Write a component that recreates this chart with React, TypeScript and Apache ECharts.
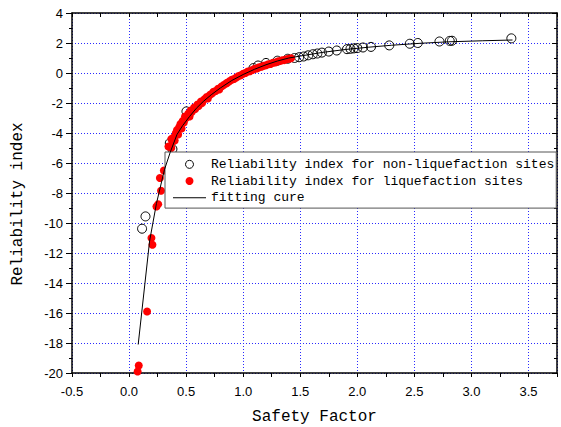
import React, { useEffect, useRef } from "react";
import * as echarts from "echarts";

// [Safety Factor, Reliability index]
const nonLiquefactionPoints: number[][] = [
  [0.114, -10.38], [0.144, -9.56], [0.357, -4.67], [0.38, -5.07], [0.503, -2.56],
  [1.09, 0.33], [1.13, 0.5], [1.2, 0.67], [1.3, 0.82], [1.39, 0.95],
  [1.45, 1.0], [1.49, 1.05], [1.53, 1.1], [1.57, 1.18], [1.61, 1.25], [1.65, 1.3],
  [1.69, 1.36], [1.75, 1.43], [1.82, 1.5], [1.91, 1.59], [1.94, 1.61], [1.97, 1.64],
  [2.0, 1.66], [2.05, 1.7], [2.12, 1.74], [2.28, 1.84], [2.46, 1.95], [2.53, 2.0],
  [2.72, 2.1], [2.81, 2.14], [2.83, 2.15], [3.35, 2.31],
];

const liquefactionPoints: number[][] = [
  [0.075, -19.9], [0.085, -19.5], [0.158, -15.9], [0.196, -11.0], [0.205, -11.45],
  [0.24, -8.9], [0.255, -8.75], [0.27, -7.0], [0.28, -7.85], [0.305, -6.5],
  [0.345, -4.9], [0.37, -4.4],
  [0.37, -5.0], [0.38, -4.6], [0.39, -4.3], [0.4, -4.5], [0.41, -4.0], [0.42, -3.8],
  [0.43, -4.1], [0.44, -3.6], [0.45, -3.4], [0.46, -3.7], [0.47, -3.2], [0.48, -3.3],
  [0.49, -2.9], [0.5, -3.0], [0.52, -2.7], [0.53, -2.9], [0.54, -2.5], [0.55, -2.6],
  [0.57, -2.3], [0.58, -2.4], [0.6, -2.1], [0.61, -2.2], [0.63, -1.9], [0.64, -2.0],
  [0.66, -1.75], [0.68, -1.6], [0.69, -1.7], [0.71, -1.45], [0.73, -1.35], [0.74, -1.25],
  [0.76, -1.2], [0.78, -1.05], [0.79, -1.1], [0.81, -0.9], [0.83, -0.8], [0.85, -0.7],
  [0.86, -0.65], [0.88, -0.55], [0.9, -0.45], [0.92, -0.4], [0.94, -0.3], [0.96, -0.2],
  [0.98, -0.15], [1.0, -0.05], [1.02, 0.0], [1.04, 0.1], [1.06, 0.12], [1.08, 0.2],
  [1.1, 0.28], [1.12, 0.3], [1.14, 0.38], [1.16, 0.42], [1.18, 0.48], [1.2, 0.52],
  [1.22, 0.58], [1.24, 0.6], [1.26, 0.68], [1.28, 0.7], [1.3, 0.76], [1.32, 0.8],
  [1.34, 0.84], [1.36, 0.86], [1.38, 0.92], [1.4, 0.95], [1.42, 0.98],
];

const fittingCurve: number[][] = [
  [0.08, -18.1], [0.18, -11.2], [0.24, -8.7], [0.31, -6.45], [0.36, -5.3],
  [0.385, -4.8], [0.42, -4.1], [0.47, -3.5], [0.53, -2.9], [0.59, -2.35],
  [0.65, -1.9], [0.72, -1.45], [0.8, -1.0], [0.9, -0.5], [1.0, -0.1],
  [1.1, 0.25], [1.2, 0.55], [1.3, 0.8], [1.4, 1.0], [1.5, 1.13], [1.7, 1.38],
  [1.9, 1.57], [2.1, 1.72], [2.3, 1.85], [2.55, 1.98], [2.8, 2.08], [3.1, 2.15],
  [3.36, 2.2],
];

const seriesNames = [
  "Reliability index for non-liquefaction sites",
  "Reliability index for liquefaction sites",
  "fitting cure",
];

const xMin = -0.5;
const xMax = 3.75;
const yMin = -20;
const yMax = 4;

export default function App() {
  const ref = useRef<HTMLDivElement>(null);
  useEffect(() => {
    document.body.style.margin = "0";
    const chart = echarts.init(ref.current!, null, { renderer: "svg" });
    const axisLine = { show: true, onZero: false, lineStyle: { color: "#000", width: 1.5 } };
    const labelFont = { fontFamily: "Liberation Sans", fontSize: 13, color: "#000" };
    const monoFamily = "'Liberation Mono', 'Courier New', monospace";
    const titleFont = { fontFamily: monoFamily, fontSize: 16, color: "#000" };
    const split = { show: true, lineStyle: { color: "#2a2aff", type: [1, 2], width: 1 } };
    chart.setOption({
      animation: false,
      backgroundColor: "#fff",
      grid: { left: 72, right: 4, top: 13, bottom: 54, containLabel: false, outerBoundsMode: "none" },
      xAxis: [
        {
          type: "value", min: xMin, max: xMax, interval: 0.5, position: "bottom",
          name: "Safety Factor", nameLocation: "middle", nameGap: 36, nameTextStyle: titleFont,
          axisLine, axisTick: { show: true, inside: false, length: 4, lineStyle: { color: "#000" } },
          minorTick: { show: true, splitNumber: 2, length: 4, lineStyle: { color: "#000" } },
          axisLabel: { ...labelFont, margin: 12, showMaxLabel: false, formatter: (v: number) => v.toFixed(1) },
          splitLine: split,
        },
        {
          type: "value", min: xMin, max: xMax, interval: 0.5, position: "top",
          axisLine, axisTick: { show: true, inside: true, length: 4, lineStyle: { color: "#000" } },
          minorTick: { show: true, splitNumber: 2, length: 4, lineStyle: { color: "#000" } },
          axisLabel: { show: false }, splitLine: { show: false },
        },
      ],
      yAxis: [
        {
          type: "value", min: yMin, max: yMax, interval: 2, position: "left",
          name: "Reliability index", nameLocation: "middle", nameGap: 46,
          nameTextStyle: { ...titleFont, padding: [0, 22, 0, 0] },
          axisLine, axisTick: { show: true, inside: false, length: 6, lineStyle: { color: "#000" } },
          minorTick: { show: true, splitNumber: 2, length: 3, lineStyle: { color: "#000" } },
          axisLabel: { ...labelFont, margin: 9 },
          splitLine: split,
        },
        {
          type: "value", min: yMin, max: yMax, interval: 2, position: "right",
          axisLine, axisTick: { show: true, inside: true, length: 5, lineStyle: { color: "#000" } },
          minorTick: { show: true, splitNumber: 2, length: 3, lineStyle: { color: "#000" } },
          axisLabel: { show: false }, splitLine: { show: false },
        },
      ],
      legend: {
        orient: "vertical", left: 165, top: 152, padding: [4, 2, 2, 8], itemGap: 0,
        itemWidth: 33, itemHeight: 8, backgroundColor: "#fff", borderColor: "#555",
        borderWidth: 1, borderRadius: 0, selectedMode: false,
        textStyle: { fontFamily: monoFamily, fontSize: 13, color: "#000", lineHeight: 16.7 },
        data: [
          { name: seriesNames[0], itemStyle: { borderWidth: 1 } },
          { name: seriesNames[1] },
          { name: seriesNames[2], icon: "path://M0,0h33v1h-33z", itemStyle: { color: "#000" } },
        ],
      },
      series: [
        {
          name: seriesNames[0], type: "scatter", data: nonLiquefactionPoints,
          symbol: "circle", symbolSize: 9, z: 2,
          itemStyle: { color: "rgba(255,255,255,0)", borderColor: "#000", borderWidth: 1, opacity: 1 },
        },
        {
          name: seriesNames[1], type: "scatter", data: liquefactionPoints,
          symbol: "circle", symbolSize: 8, z: 3,
          itemStyle: { color: "#ff0000", opacity: 1 },
        },
        {
          name: seriesNames[2], type: "line", data: fittingCurve, showSymbol: false,
          symbol: "none", z: 4, lineStyle: { color: "#000", width: 1 }, itemStyle: { color: "#000" },
        },
      ],
    });
    return () => chart.dispose();
  }, []);
  return <div ref={ref} style={{ width: 561, height: 427 }} />;
}
